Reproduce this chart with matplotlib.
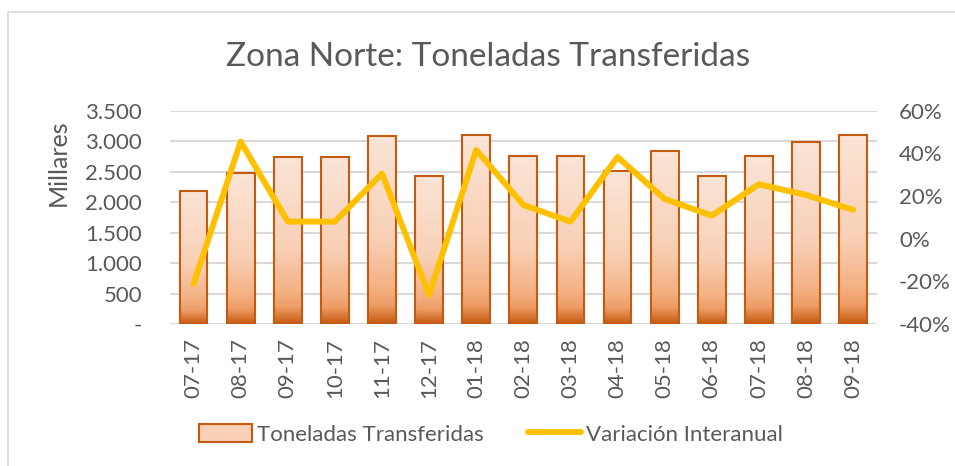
import numpy as np
import matplotlib.pyplot as plt
from matplotlib.colors import LinearSegmentedColormap
from matplotlib.patches import Rectangle
from matplotlib.lines import Line2D

meses = ['07-17', '08-17', '09-17', '10-17', '11-17', '12-17', '01-18', '02-18',
         '03-18', '04-18', '05-18', '06-18', '07-18', '08-18', '09-18']
toneladas = [2185, 2470, 2735, 2745, 3090, 2430, 3105, 2750,
             2750, 2515, 2835, 2425, 2755, 2985, 3105]
variacion = [-21.2, 45.5, 8.0, 8.0, 30.5, -26.4, 41.6, 15.8,
             8.0, 38.3, 18.6, 10.8, 25.5, 20.5, 13.5]

left_ticks = [0, 500, 1000, 1500, 2000, 2500, 3000, 3500]
left_labels = ['-', '500', '1.000', '1.500', '2.000', '2.500', '3.000', '3.500']
right_ticks = [-40, -20, 0, 20, 40, 60]

gris = '#595959'
naranja = '#C55A11'
amarillo = '#FFC000'

plt.rcParams['font.family'] = ['Lato', 'DejaVu Sans']

fig = plt.figure(figsize=(9.55, 4.66), dpi=100)
ax = fig.add_axes([0.178, 0.3047, 0.740, 0.4578])

# borde del grafico
fig.add_artist(Rectangle((7.5 / 955, -0.1), 1.2, 1.1 - 12 / 466, transform=fig.transFigure,
                         fill=False, edgecolor='#D9D9D9', linewidth=1.2))

x = np.arange(len(meses))
bars = ax.bar(x, toneladas, width=0.59, facecolor='none', edgecolor=naranja,
              linewidth=1.5, zorder=3)

# degradado de las barras
cmap = LinearSegmentedColormap.from_list('grad', [
    (0.0, '#FBE5D7'), (0.55, '#F8D0B6'), (0.80, '#F4B285'),
    (0.90, '#EE9D66'), (1.0, '#C55A11')])
grad = np.linspace(0, 1, 256).reshape(-1, 1)
for b in bars:
    x0, w, h = b.get_x(), b.get_width(), b.get_height()
    im = ax.imshow(grad, extent=(x0, x0 + w, 0, h), origin='upper', cmap=cmap,
                   aspect='auto', zorder=2)
    im.set_clip_path(b)

ax.set_xlim(-0.5, len(meses) - 0.5)
ax.set_ylim(0, 3500)
ax.set_yticks(left_ticks)
ax.set_yticklabels(left_labels)
ax.set_xticks(x)
ax.set_xticklabels(meses, rotation=90)
ax.grid(axis='y', color='#D9D9D9', linewidth=1.5, zorder=0)
ax.set_axisbelow(True)
for s in ax.spines.values():
    s.set_visible(False)
ax.tick_params(length=0, labelsize=16, colors=gris, pad=10)
ax.tick_params(axis='y', pad=20)
ax.set_ylabel('Millares', fontsize=18, color=gris, va='center')
ax.yaxis.set_label_coords(-0.158, 0.757)

ax2 = ax.twinx()
ax2.plot(x, variacion, color=amarillo, linewidth=4.3, solid_joinstyle='round',
         solid_capstyle='round', zorder=5)
ax2.set_ylim(-40, 60)
ax2.set_yticks(right_ticks)
ax2.set_yticklabels([f'{t}%' for t in right_ticks])
for s in ax2.spines.values():
    s.set_visible(False)
ax2.tick_params(length=0, labelsize=16, colors=gris, pad=16)

fig.text(0.511, 0.878, 'Zona Norte: Toneladas Transferidas', ha='center', va='center',
         fontsize=24, color=gris)

handles = [Rectangle((0, 0), 1, 1, facecolor='#F8D0B6', edgecolor=naranja, linewidth=1.5),
           Line2D([0], [0], color=amarillo, linewidth=4.3, solid_capstyle='round')]
fig.legend(handles, ['Toneladas Transferidas', 'Variación Interanual'], loc='center',
           bbox_to_anchor=(0.514, 0.068), ncol=2, frameon=False, fontsize=16,
           labelcolor=gris, handlelength=2.4, handleheight=0.9, handletextpad=0.2,
           columnspacing=2.0)

fig.savefig('out.png', dpi=100)
